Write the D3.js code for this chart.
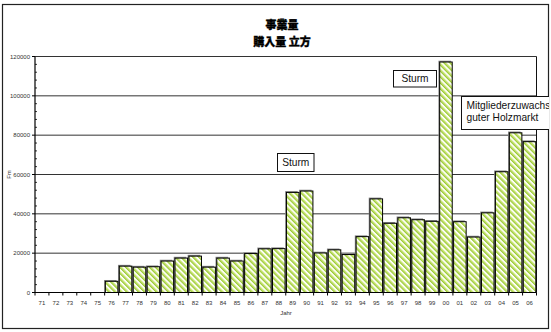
<!DOCTYPE html>
<html>
<head>
<meta charset="utf-8">
<script src="https://cdn.jsdelivr.net/npm/d3@7"></script>
<style>
  html, body { margin: 0; padding: 0; background: #fff; }
  svg { display: block; }
</style>
</head>
<body>
<svg id="chart" width="551" height="332"></svg>
<script>
// Years (two-digit labels) and purchased volume in Fm
const years = ["71","72","73","74","75","76","77","78","79","80","81","82","83","84","85","86","87","88",
               "89","90","91","92","93","94","95","96","97","98","99","00","01","02","03","04","05","06"];
const volume = [null, null, null, null, null, 5700, 13400, 12900, 13100, 16000, 17500, 18500, 12900, 17500,
                16000, 19800, 22200, 22300, 50900, 51600, 20100, 21700, 19300, 28400, 47600, 35200,
                38000, 37000, 36200, 117200, 36000, 28200, 40500, 61400, 81200, 76700];
const yTicks = [0, 20000, 40000, 60000, 80000, 100000, 120000];
const titleLines = ["事業量", "購入量 立方"];
const noteStorm1 = ["Sturm"];
const noteStorm2 = ["Sturm"];
const noteMarket = ["Mitgliederzuwachs", "guter Holzmarkt"];

const W = 551, H = 332;
const plot = { left: 35, right: 536.5, top: 56.5, bottom: 292.5 };
const svg = d3.select("#chart");

// Diagonal green hatching used to fill the bars
const defs = svg.append("defs");
const pat = defs.append("pattern")
  .attr("id", "hatch")
  .attr("patternUnits", "userSpaceOnUse")
  .attr("width", 4.2).attr("height", 4.2)
  .attr("patternTransform", "rotate(-45)");
pat.append("rect").attr("width", 4.2).attr("height", 4.2).attr("fill", "#ffffff");
pat.append("rect").attr("x", 0).attr("width", 1.5).attr("height", 4.2).attr("fill", "#9ccb34");
pat.append("rect").attr("x", 1.5).attr("width", 1.1).attr("height", 4.2).attr("fill", "#d4e985");

const clip = defs.append("clipPath").attr("id", "frameClip");
clip.append("rect").attr("x", 2).attr("y", 4).attr("width", 547).attr("height", 325);

// Scales
const x = d3.scaleBand()
  .domain(years)
  .range([plot.left, plot.right])
  .paddingInner(0.1)
  .paddingOuter(0.05);
const y = d3.scaleLinear().domain([0, 120000]).range([plot.bottom, plot.top]);

const font = "'Liberation Sans', Arial, sans-serif";

// Outer chart frame
svg.append("rect")
  .attr("x", 2.5).attr("y", 4.5).attr("width", 546).attr("height", 324)
  .attr("fill", "#fff").attr("stroke", "#222").attr("stroke-width", 1.2);

// Title
svg.append("g").selectAll("text").data(titleLines).join("text")
  .attr("x", 282).attr("y", (d, i) => 29 + i * 17)
  .attr("text-anchor", "middle")
  .attr("font-family", "'Noto Sans CJK JP', sans-serif")
  .attr("font-weight", "900")
  .attr("font-size", 11)
  .attr("fill", "#000")
  .attr("stroke", "#000").attr("stroke-width", 0.35)
  .text(d => d);

// Horizontal gridlines
svg.append("g").selectAll("line").data(yTicks.filter(v => v > 0)).join("line")
  .attr("x1", plot.left).attr("x2", plot.right)
  .attr("y1", d => y(d)).attr("y2", d => y(d))
  .attr("stroke", "#333").attr("stroke-width", 1);

// Plot area right border
svg.append("line")
  .attr("x1", plot.right).attr("x2", plot.right)
  .attr("y1", plot.top).attr("y2", plot.bottom)
  .attr("stroke", "#111").attr("stroke-width", 1);

// Bars with a soft grey shadow
const barData = years.map((yr, i) => ({ yr, v: volume[i] })).filter(d => d.v != null);
const bars = svg.append("g");
bars.selectAll("rect.shadow").data(barData).join("rect")
  .attr("class", "shadow")
  .attr("x", d => x(d.yr) - 1.3)
  .attr("y", d => y(d.v) - 1.3)
  .attr("width", x.bandwidth())
  .attr("height", d => plot.bottom - y(d.v) + 1.3)
  .attr("fill", "#8a8a8a");
bars.selectAll("rect.bar").data(barData).join("rect")
  .attr("class", "bar")
  .attr("x", d => x(d.yr))
  .attr("y", d => y(d.v))
  .attr("width", x.bandwidth())
  .attr("height", d => plot.bottom - y(d.v))
  .attr("fill", "url(#hatch)")
  .attr("stroke", "#000").attr("stroke-width", 1);

// Y axis
const yAxis = svg.append("g");
yAxis.append("line")
  .attr("x1", plot.left).attr("x2", plot.left)
  .attr("y1", plot.top).attr("y2", plot.bottom)
  .attr("stroke", "#000").attr("stroke-width", 1.2);
yAxis.selectAll("line.major").data(yTicks).join("line")
  .attr("class", "major")
  .attr("x1", plot.left - 3).attr("x2", plot.left)
  .attr("y1", d => y(d)).attr("y2", d => y(d))
  .attr("stroke", "#000");
const minorTicks = d3.range(0, 120001, 4000).filter(v => v % 20000 !== 0);
yAxis.selectAll("line.minor").data(minorTicks).join("line")
  .attr("class", "minor")
  .attr("x1", plot.left).attr("x2", plot.left + 2)
  .attr("y1", d => y(d)).attr("y2", d => y(d))
  .attr("stroke", "#000").attr("stroke-width", 0.8);
yAxis.selectAll("text").data(yTicks).join("text")
  .attr("x", plot.left - 5).attr("y", d => y(d) + 2)
  .attr("text-anchor", "end")
  .attr("font-family", font).attr("font-size", 6)
  .attr("fill", "#333")
  .text(d => d);
svg.append("text")
  .attr("transform", `translate(11,${(plot.top + plot.bottom) / 2}) rotate(-90)`)
  .attr("text-anchor", "middle")
  .attr("font-family", font).attr("font-size", 6)
  .attr("fill", "#333")
  .text("Fm");

// X axis
const xAxis = svg.append("g");
xAxis.append("line")
  .attr("x1", plot.left).attr("x2", plot.right)
  .attr("y1", plot.bottom).attr("y2", plot.bottom)
  .attr("stroke", "#000").attr("stroke-width", 1.2);
const step = (plot.right - plot.left) / years.length;
xAxis.selectAll("line.tick").data(d3.range(years.length + 1)).join("line")
  .attr("class", "tick")
  .attr("x1", i => plot.left + i * step).attr("x2", i => plot.left + i * step)
  .attr("y1", plot.bottom).attr("y2", plot.bottom + 3)
  .attr("stroke", "#000");
xAxis.selectAll("text").data(years).join("text")
  .attr("x", d => x(d) + x.bandwidth() / 2)
  .attr("y", plot.bottom + 12)
  .attr("text-anchor", "middle")
  .attr("font-family", font).attr("font-size", 6)
  .attr("fill", "#333")
  .text(d => d);
svg.append("text")
  .attr("x", 286).attr("y", 315)
  .attr("text-anchor", "middle")
  .attr("font-family", font).attr("font-size", 6)
  .attr("fill", "#333")
  .text("Jahr");

// Annotation boxes
function note(lines, bx, by, bw, bh, anchor) {
  const g = svg.append("g").attr("clip-path", "url(#frameClip)");
  g.append("rect")
    .attr("x", bx).attr("y", by).attr("width", bw).attr("height", bh)
    .attr("fill", "#fff").attr("stroke", "#111").attr("stroke-width", 1);
  g.selectAll("text").data(lines).join("text")
    .attr("x", anchor === "middle" ? bx + bw / 2 : bx + 5)
    .attr("y", (d, i) => lines.length === 1 ? by + bh / 2 + 3.6 : by + 12.5 + i * 12)
    .attr("text-anchor", anchor)
    .attr("font-family", font).attr("font-size", 10.2)
    .attr("fill", "#111")
    .text(d => d);
}
note(noteStorm1, 277.5, 153.5, 36.5, 18, "middle");
note(noteStorm2, 393.5, 70.5, 43, 16.5, "middle");
note(noteMarket, 461.5, 96.5, 100, 33, "start");
</script>
</body>
</html>
